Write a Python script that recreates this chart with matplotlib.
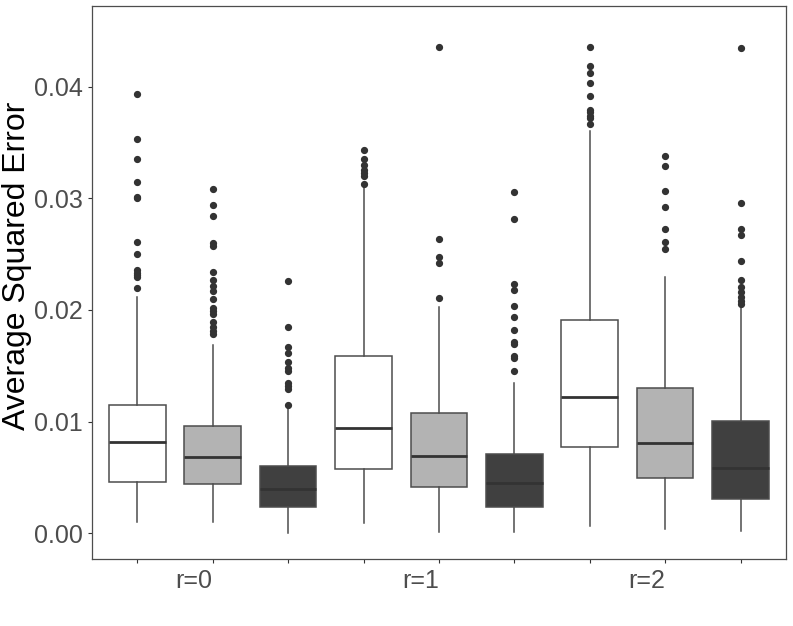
import numpy as np
import matplotlib.pyplot as plt

plt.rcParams['font.family'] = ['Liberation Sans', 'DejaVu Sans']

# nine boxes: (r=0, r=1, r=2) x (white, gray, dark)
group_labels = ['r=0', 'r=1', 'r=2']
box_colors = ['#ffffff', '#b3b3b3', '#404040']

q1 = [0.00459, 0.00442, 0.00233, 0.00579, 0.00417, 0.00233, 0.00776, 0.00493, 0.00305]
med = [0.00818, 0.00686, 0.00400, 0.00946, 0.00695, 0.00453, 0.01224, 0.00809, 0.00582]
q3 = [0.01149, 0.00964, 0.00600, 0.01591, 0.01077, 0.00710, 0.01913, 0.01299, 0.01006]
whis_lo = [0.00098, 0.00098, 0.00005, 0.00095, 0.00014, 0.00009, 0.00065, 0.00039, 0.00021]
whis_hi = [0.02119, 0.01684, 0.01120, 0.03100, 0.02024, 0.01349, 0.03606, 0.02293, 0.02015]

outliers = [
    [0.03935, 0.03534, 0.03355, 0.03149, 0.03015, 0.03000, 0.02612, 0.02499,
     0.02358, 0.02334, 0.02313, 0.02293, 0.02200],
    [0.03086, 0.02940, 0.02842, 0.02597, 0.02576, 0.02338, 0.02269, 0.02218,
     0.02173, 0.02096, 0.02021, 0.01994, 0.01964, 0.01890, 0.01850, 0.01815, 0.01785],
    [0.02257, 0.01850, 0.01666, 0.01618, 0.01537, 0.01478, 0.01457, 0.01343,
     0.01319, 0.01290, 0.01152],
    [0.03436, 0.03352, 0.03299, 0.03254, 0.03224, 0.03203, 0.03129],
    [0.04358, 0.02636, 0.02477, 0.02421, 0.02110],
    [0.03057, 0.02818, 0.02233, 0.02176, 0.02033, 0.01935, 0.01818, 0.01716,
     0.01696, 0.01588, 0.01567, 0.01454],
    [0.04358, 0.04188, 0.04120, 0.04030, 0.03919, 0.03794, 0.03774, 0.03740,
     0.03717, 0.03663],
    [0.03377, 0.03287, 0.03066, 0.02920, 0.02728, 0.02612, 0.02546],
    [0.04344, 0.02956, 0.02725, 0.02669, 0.02439, 0.02269, 0.02209, 0.02164,
     0.02119, 0.02083, 0.02054],
]

y_ticks = [0.00, 0.01, 0.02, 0.03, 0.04]

stats = []
for i in range(9):
    stats.append(dict(q1=q1[i], med=med[i], q3=q3[i],
                      whislo=whis_lo[i], whishi=whis_hi[i],
                      fliers=outliers[i]))

line_col = '#4d4d4d'
fig = plt.figure(figsize=(7.93, 6.26), dpi=100)
ax = fig.add_axes([0.116, 0.107, 0.875, 0.883])

positions = np.arange(1, 10)
bp = ax.bxp(stats, positions=positions, widths=0.75, patch_artist=True,
            showcaps=False,
            boxprops=dict(edgecolor=line_col, linewidth=1.1),
            whiskerprops=dict(color=line_col, linewidth=1.1),
            medianprops=dict(color='#333333', linewidth=2.0),
            flierprops=dict(marker='o', markersize=4.2, markerfacecolor='#333333',
                            markeredgecolor='#333333', linestyle='none'))
for k, patch in enumerate(bp['boxes']):
    patch.set_facecolor(box_colors[k % 3])

ax.set_xlim(0.4, 9.6)
ax.set_ylim(-0.0023, 0.0472)
ax.set_yticks(y_ticks)
ax.set_yticklabels([f'{v:.2f}' for v in y_ticks])
ax.set_xticks(positions)
xlabels = ['' for _ in positions]
for g, lab in enumerate(group_labels):
    xlabels[3 * g + 1] = lab
ax.set_xticklabels(xlabels, ha='right')

ax.tick_params(axis='both', length=3, width=0.8, color='#333333',
               labelsize=18, labelcolor='#4d4d4d')
ax.tick_params(axis='x', pad=4)
for s in ax.spines.values():
    s.set_color('#4d4d4d')
    s.set_linewidth(0.9)

ax.set_ylabel('Average Squared Error', fontsize=23, color='black')
ax.yaxis.set_label_coords(-0.086, 0.53)

fig.savefig('out.png', dpi=100)
